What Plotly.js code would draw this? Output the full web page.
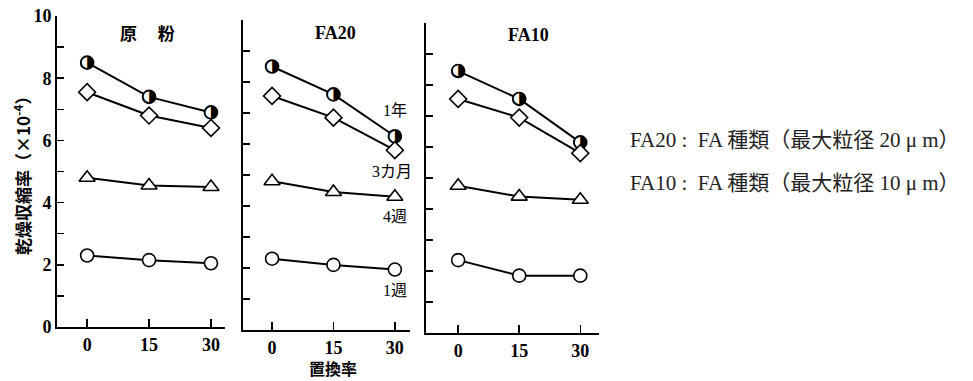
<!DOCTYPE html>
<html>
<head>
<meta charset="utf-8">
<script src="https://cdn.plot.ly/plotly-3.0.1.min.js"></script>
<style>html,body{margin:0;padding:0;background:#fff;}#chart{width:973px;height:381px;}</style>
</head>
<body>
<div id="chart"></div>
<script>
// ---- data ----
const replacementRate = [0, 15, 30];
const panelTitles = ['原\u3000\u00a0粉', 'FA20', 'FA10'];
const seriesNames = ['1年', '3カ月', '4週', '1週'];

const genpun_1yr = [8.5, 7.4, 6.9];
const genpun_3mo = [7.55, 6.8, 6.4];
const genpun_4wk = [4.8, 4.55, 4.5];
const genpun_1wk = [2.3, 2.15, 2.05];

const fa20_1yr = [8.5, 7.6, 6.25];
const fa20_3mo = [7.55, 6.85, 5.8];
const fa20_4wk = [4.8, 4.45, 4.3];
const fa20_1wk = [2.3, 2.1, 1.95];

const fa10_1yr = [8.45, 7.55, 6.15];
const fa10_3mo = [7.55, 6.95, 5.8];
const fa10_4wk = [4.75, 4.4, 4.3];
const fa10_1wk = [2.35, 1.85, 1.85];

const yTickVals = [0,1,2,3,4,5,6,7,8,9,10];
const yTickText = ['0','','2','','4','','6','','8','','10'];
const xTickVals = [0, 15, 30];
const xTickText = ['0', '15', '30'];

const noteLines = ['FA20 :\u00a0\u00a0FA 種類（最大粒径 20 μ m）', 'FA10 :\u00a0\u00a0FA 種類（最大粒径 10 μ m）'];

// ---- build ----
const panels = [
  {xa:'x', ya:'y', data:[genpun_1yr, genpun_3mo, genpun_4wk, genpun_1wk]},
  {xa:'x2', ya:'y2', data:[fa20_1yr, fa20_3mo, fa20_4wk, fa20_1wk]},
  {xa:'x3', ya:'y3', data:[fa10_1yr, fa10_3mo, fa10_4wk, fa10_1wk]}
];
const symbols = ['circle', 'diamond', 'triangle-up', 'circle'];
const sizes = [13, 13, 14, 13];
const traces = [];
panels.forEach(p => {
  p.data.forEach((vals, i) => {
    traces.push({
      x: replacementRate, y: vals, xaxis: p.xa, yaxis: p.ya,
      type: 'scatter', mode: 'lines+markers', name: seriesNames[i],
      line: {color: '#000', width: 2},
      marker: {symbol: symbols[i], size: sizes[i], color: '#fff', line: {color: '#000', width: 1.6}},
      hoverinfo: 'skip', showlegend: false
    });
    if (i === 0) {
      traces.push({
        x: replacementRate, y: vals, xaxis: p.xa, yaxis: p.ya,
        type: 'scatter', mode: 'text', text: replacementRate.map(() => '◑'),
        textposition: 'middle center',
        textfont: {family: 'DejaVu Sans', size: 17, color: '#000'},
        hoverinfo: 'skip', showlegend: false
      });
    }
  });
});

const W = 973, H = 381;
function xd(a, b) { return [a / W, b / W]; }
function yd(top, bottom) { return [1 - bottom / H, 1 - top / H]; }

function tickFont() { return {family: 'Liberation Serif', size: 18, color: '#000', weight: 700}; }
function xaxis(dom, rng, anchor) {
  return {domain: dom, range: rng, anchor: anchor, showline: true, linecolor: '#000', linewidth: 2,
    ticks: 'inside', ticklen: 8, tickwidth: 1.5, tickcolor: '#000', tickvals: xTickVals, ticktext: xTickText,
    tickfont: tickFont(), showgrid: false, zeroline: false, fixedrange: true};
}
function yaxis(dom, anchor, labels) {
  return {domain: dom, range: [0, 10], anchor: anchor, showline: true, linecolor: '#000', linewidth: 2,
    ticks: 'inside', ticklen: 7, tickwidth: 1.5, tickcolor: '#000', tickvals: yTickVals,
    ticktext: labels ? yTickText : yTickVals.map(() => ''), showticklabels: labels,
    tickfont: tickFont(), showgrid: false, zeroline: false, fixedrange: true};
}

const cjk = 'Noto Sans CJK JP';
const serifCjk = 'Liberation Serif, Noto Sans CJK JP';
function ann(text, px, py, font, extra) {
  return Object.assign({text: text, x: px / W, y: 1 - py / H, xref: 'paper', yref: 'paper',
    xanchor: 'center', yanchor: 'middle', showarrow: false, font: font}, extra || {});
}
const layout = {
  width: W, height: H, margin: {l: 0, r: 0, t: 0, b: 0},
  font: {family: 'Liberation Serif', color: '#000'},
  paper_bgcolor: '#fff', plot_bgcolor: 'rgba(0,0,0,0)', showlegend: false,
  xaxis: xaxis(xd(57, 225), [-7.3, 33.4], 'y'),
  yaxis: yaxis(yd(16, 327), 'x', true),
  xaxis2: xaxis(xd(243, 410), [-7.1, 33.7], 'y2'),
  yaxis2: yaxis(yd(20, 330), 'x2', false),
  xaxis3: xaxis(xd(426, 599), [-7.9, 34.6], 'y3'),
  yaxis3: yaxis(yd(23, 333), 'x3', false),
  annotations: [
    ann(panelTitles[0], 147, 32, {family: cjk, size: 17, color: '#000', weight: 'bold'}),
    ann(panelTitles[1], 335, 33, {family: serifCjk, size: 18, color: '#000', weight: 'bold'}),
    ann(panelTitles[2], 528, 35, {family: serifCjk, size: 18, color: '#000', weight: 'bold'}),
    ann('乾燥収縮率（×10<sup>-4</sup>）', 22, 172, {family: cjk, size: 17, color: '#000', weight: 'bold'}, {textangle: -90}),
    ann('置換率', 333, 368, {family: cjk, size: 16, color: '#000', weight: 'bold'}),
    ann(seriesNames[0], 395, 110, {family: serifCjk, size: 16, color: '#000'}),
    ann(seriesNames[1], 392, 171, {family: serifCjk, size: 16, color: '#000'}),
    ann(seriesNames[2], 395, 217, {family: serifCjk, size: 16, color: '#000'}),
    ann(seriesNames[3], 395, 290, {family: serifCjk, size: 16, color: '#000'}),
    ann(noteLines[0], 628, 140, {family: serifCjk, size: 21, color: '#222'}, {xanchor: 'left'}),
    ann(noteLines[1], 628, 183, {family: serifCjk, size: 21, color: '#222'}, {xanchor: 'left'})
  ]
};

Plotly.newPlot('chart', traces, layout, {staticPlot: true, displayModeBar: false});
</script>
</body>
</html>
